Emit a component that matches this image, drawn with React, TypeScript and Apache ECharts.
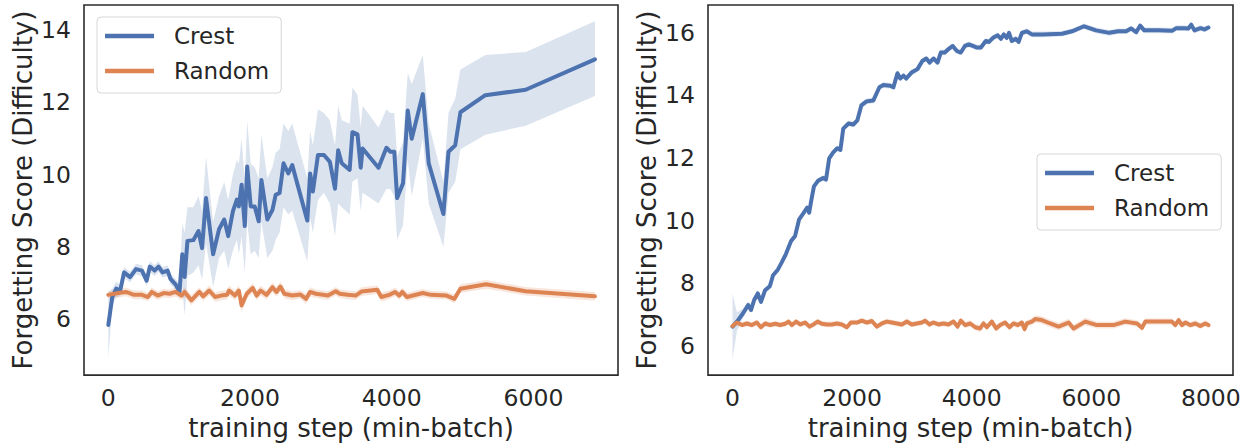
import React, { useEffect, useRef } from "react";
import * as echarts from "echarts";

// ---------- Left panel ----------
const leftCrestX = [0, 56, 112, 168, 223, 307, 391, 475, 541, 586, 653, 709, 765, 837, 877, 949, 1005, 1044, 1077, 1117, 1200, 1273, 1323, 1379, 1479, 1563, 1636, 1692, 1759, 1814, 1842, 1881, 1926, 1960, 2010, 2066, 2122, 2161, 2244, 2317, 2362, 2417, 2473, 2540, 2596, 2808, 2848, 2887, 2959, 3043, 3127, 3199, 3244, 3294, 3406, 3445, 3517, 3562, 3589, 3813, 3925, 3981, 4036, 4076, 4159, 4226, 4282, 4438, 4522, 4729, 4801, 4896, 4969, 5321, 5890, 6867];
const leftCrestY = [5.85, 6.62, 6.85, 6.8, 7.3, 7.17, 7.39, 7.35, 7.07, 7.46, 7.35, 7.46, 7.3, 7.35, 7.12, 6.97, 6.77, 7.8, 7.17, 8.17, 8.19, 8.44, 7.97, 9.35, 7.8, 8.49, 8.76, 8.3, 8.99, 9.31, 9.12, 9.72, 8.58, 10.22, 9.12, 9.12, 8.71, 9.85, 8.76, 9.03, 9.44, 9.49, 10.31, 10.03, 10.26, 8.73, 10.03, 9.53, 10.54, 10.54, 10.35, 9.61, 10.67, 10.31, 10.13, 11.17, 11.11, 10.19, 10.72, 10.19, 10.74, 10.63, 10.63, 9.35, 9.76, 11.77, 10.99, 12.22, 10.31, 8.91, 10.63, 10.81, 11.72, 12.19, 12.34, 13.18];
const leftCrestLo = [4.93, 6.4, 6.6, 6.65, 7.15, 7.02, 7.24, 7.2, 6.92, 7.31, 7.2, 7.31, 7.15, 7.2, 6.97, 6.82, 6.6, 6.9, 6.1, 7.2, 7.3, 7.5, 7.1, 8.1, 6.9, 7.7, 7.9, 7.4, 7.9, 8.2, 7.8, 8.3, 7.3, 8.7, 7.8, 7.9, 7.7, 8.7, 7.7, 7.9, 8.2, 8.4, 9.1, 8.9, 9.0, 7.6, 8.8, 8.4, 9.3, 9.5, 9.2, 8.3, 9.2, 9.1, 8.9, 9.8, 9.9, 9.0, 9.5, 9.2, 9.6, 9.6, 9.4, 8.2, 8.6, 10.4, 9.4, 11.0, 9.2, 8.0, 9.5, 9.8, 10.7, 11.1, 11.35, 12.17];
const leftCrestHi = [6.75, 6.85, 7.05, 6.95, 7.45, 7.32, 7.54, 7.5, 7.22, 7.61, 7.5, 7.61, 7.45, 7.5, 7.27, 7.12, 7.0, 8.65, 8.4, 9.1, 9.1, 9.4, 9.0, 10.5, 8.7, 9.4, 9.8, 9.3, 10.0, 10.4, 10.3, 11.0, 9.8, 11.5, 10.3, 10.2, 9.9, 11.1, 9.9, 10.2, 10.6, 10.7, 11.4, 11.2, 11.4, 9.9, 11.2, 10.8, 11.8, 11.7, 11.5, 10.8, 11.9, 11.5, 11.4, 12.4, 12.2, 11.3, 11.9, 11.3, 11.8, 11.7, 11.7, 10.5, 10.9, 12.8, 12.5, 13.3, 11.4, 9.8, 11.7, 12.1, 12.9, 13.3, 13.38, 14.23];

const leftRandomX = [0, 140, 251, 363, 475, 558, 614, 698, 782, 865, 949, 1033, 1077, 1172, 1284, 1340, 1424, 1507, 1591, 1675, 1703, 1787, 1842, 1881, 1954, 2038, 2094, 2149, 2233, 2317, 2373, 2429, 2484, 2596, 2708, 2792, 2847, 2931, 3099, 3210, 3266, 3378, 3489, 3573, 3796, 3852, 3964, 4048, 4104, 4148, 4215, 4438, 4550, 4773, 4885, 4969, 5332, 5890, 6867];
const leftRandomY = [6.68, 6.73, 6.76, 6.68, 6.68, 6.62, 6.76, 6.66, 6.73, 6.71, 6.76, 6.66, 6.76, 6.53, 6.76, 6.64, 6.8, 6.62, 6.66, 6.68, 6.8, 6.66, 6.8, 6.39, 6.71, 6.87, 6.66, 6.8, 6.68, 6.89, 6.76, 6.91, 6.71, 6.66, 6.69, 6.57, 6.76, 6.71, 6.66, 6.78, 6.71, 6.68, 6.66, 6.77, 6.82, 6.62, 6.68, 6.76, 6.66, 6.76, 6.62, 6.73, 6.68, 6.66, 6.57, 6.85, 6.97, 6.78, 6.64];
const leftRandomSpread = [0.1, 0.12, 0.12, 0.12, 0.12, 0.12, 0.13, 0.12, 0.12, 0.12, 0.13, 0.13, 0.14, 0.14, 0.13, 0.13, 0.14, 0.13, 0.13, 0.13, 0.14, 0.13, 0.14, 0.18, 0.13, 0.14, 0.13, 0.14, 0.13, 0.14, 0.13, 0.14, 0.13, 0.12, 0.12, 0.14, 0.13, 0.12, 0.12, 0.12, 0.12, 0.12, 0.12, 0.12, 0.12, 0.13, 0.12, 0.12, 0.12, 0.12, 0.12, 0.11, 0.11, 0.11, 0.12, 0.12, 0.12, 0.12, 0.12];

// ---------- Right panel ----------
const rightCrestX = [0, 74, 174, 262, 309, 362, 423, 476, 544, 624, 678, 758, 825, 893, 980, 1047, 1114, 1181, 1248, 1282, 1315, 1362, 1429, 1517, 1564, 1617, 1684, 1752, 1805, 1852, 1940, 2020, 2087, 2154, 2241, 2356, 2456, 2523, 2637, 2691, 2758, 2805, 2859, 2906, 2993, 3094, 3174, 3241, 3295, 3362, 3429, 3483, 3550, 3617, 3684, 3751, 3818, 3886, 3953, 4020, 4087, 4154, 4235, 4289, 4356, 4436, 4490, 4537, 4584, 4624, 4671, 4738, 4785, 4839, 4919, 5006, 5174, 5510, 5677, 5879, 6080, 6302, 6449, 6583, 6664, 6751, 6818, 6885, 7120, 7355, 7422, 7557, 7624, 7671, 7725, 7826, 7893, 7960];
const rightCrestY = [6.61, 6.77, 7.03, 7.3, 7.14, 7.46, 7.67, 7.4, 7.77, 7.9, 8.25, 8.43, 8.67, 8.93, 9.35, 9.51, 10.04, 10.22, 10.41, 10.25, 10.62, 11.09, 11.27, 11.36, 11.31, 11.99, 12.18, 12.31, 12.26, 12.94, 13.1, 13.07, 13.2, 13.68, 13.81, 13.84, 14.26, 14.33, 14.31, 14.26, 14.71, 14.54, 14.63, 14.54, 14.73, 14.84, 15.1, 15.18, 15.05, 15.18, 15.05, 15.37, 15.37, 15.49, 15.58, 15.42, 15.37, 15.58, 15.63, 15.58, 15.53, 15.53, 15.74, 15.71, 15.84, 15.92, 15.81, 15.95, 15.84, 16.0, 15.74, 15.81, 15.71, 16.0, 16.05, 15.95, 15.95, 15.97, 16.05, 16.21, 16.08, 16.0, 16.05, 16.05, 16.14, 16.02, 16.23, 16.08, 16.08, 16.07, 16.15, 16.15, 16.14, 16.26, 16.08, 16.15, 16.11, 16.17];
const rightCrestSpread = [1.05, 0.3, 0.15, 0.12, 0.1, 0.1, 0.1, 0.1, 0.09, 0.09, 0.09, 0.09, 0.09, 0.09, 0.09, 0.09, 0.09, 0.09, 0.09, 0.09, 0.09, 0.09, 0.09, 0.09, 0.09, 0.09, 0.09, 0.09, 0.09, 0.09, 0.09, 0.09, 0.09, 0.09, 0.09, 0.09, 0.09, 0.09, 0.09, 0.09, 0.09, 0.09, 0.09, 0.09, 0.09, 0.09, 0.09, 0.09, 0.09, 0.09, 0.09, 0.09, 0.09, 0.09, 0.09, 0.09, 0.09, 0.09, 0.09, 0.09, 0.09, 0.09, 0.09, 0.09, 0.09, 0.09, 0.09, 0.09, 0.09, 0.09, 0.09, 0.09, 0.09, 0.09, 0.09, 0.09, 0.09, 0.09, 0.09, 0.09, 0.09, 0.09, 0.09, 0.09, 0.09, 0.09, 0.09, 0.09, 0.09, 0.09, 0.09, 0.09, 0.09, 0.09, 0.09, 0.09, 0.09, 0.09];

const rightRandomX = [0, 73, 157, 240, 324, 407, 474, 547, 630, 714, 797, 881, 937, 993, 1065, 1132, 1215, 1288, 1355, 1422, 1494, 1578, 1662, 1745, 1829, 1912, 1979, 2080, 2163, 2247, 2330, 2414, 2497, 2581, 2664, 2748, 2832, 2915, 2999, 3082, 3166, 3222, 3294, 3361, 3445, 3528, 3612, 3696, 3763, 3818, 3891, 3975, 4058, 4142, 4198, 4253, 4337, 4409, 4476, 4560, 4632, 4699, 4772, 4839, 4883, 4922, 5006, 5062, 5173, 5313, 5452, 5620, 5703, 5899, 6094, 6373, 6568, 6764, 6848, 6903, 7349, 7405, 7461, 7517, 7572, 7656, 7740, 7823, 7907, 7960];
const rightRandomY = [6.63, 6.74, 6.66, 6.71, 6.66, 6.74, 6.59, 6.71, 6.66, 6.7, 6.66, 6.7, 6.77, 6.66, 6.77, 6.68, 6.74, 6.61, 6.68, 6.77, 6.7, 6.68, 6.68, 6.71, 6.68, 6.59, 6.74, 6.74, 6.8, 6.74, 6.79, 6.61, 6.71, 6.77, 6.74, 6.71, 6.68, 6.77, 6.68, 6.71, 6.74, 6.8, 6.68, 6.74, 6.68, 6.71, 6.68, 6.77, 6.61, 6.8, 6.66, 6.71, 6.59, 6.55, 6.71, 6.59, 6.77, 6.55, 6.66, 6.74, 6.59, 6.71, 6.66, 6.74, 6.53, 6.71, 6.77, 6.85, 6.82, 6.71, 6.61, 6.74, 6.55, 6.77, 6.66, 6.66, 6.77, 6.71, 6.57, 6.77, 6.77, 6.66, 6.82, 6.66, 6.74, 6.66, 6.71, 6.63, 6.71, 6.66];
const rightRandomSpread = [0.08, 0.09, 0.09, 0.09, 0.09, 0.09, 0.09, 0.09, 0.09, 0.09, 0.09, 0.09, 0.09, 0.09, 0.09, 0.09, 0.09, 0.09, 0.09, 0.09, 0.09, 0.09, 0.09, 0.09, 0.09, 0.09, 0.09, 0.09, 0.09, 0.09, 0.09, 0.09, 0.09, 0.09, 0.09, 0.09, 0.09, 0.09, 0.09, 0.09, 0.09, 0.09, 0.09, 0.09, 0.09, 0.09, 0.09, 0.09, 0.1, 0.1, 0.1, 0.1, 0.1, 0.11, 0.1, 0.11, 0.1, 0.11, 0.1, 0.1, 0.11, 0.1, 0.1, 0.1, 0.12, 0.1, 0.11, 0.12, 0.12, 0.12, 0.12, 0.12, 0.12, 0.12, 0.11, 0.11, 0.11, 0.1, 0.11, 0.1, 0.1, 0.1, 0.1, 0.1, 0.1, 0.1, 0.1, 0.1, 0.1, 0.1];

const leftXTicks = [0, 2000, 4000, 6000];
const rightXTicks = [0, 2000, 4000, 6000, 8000];
const leftYTicks = [6, 8, 10, 12, 14];
const rightYTicks = [6, 8, 10, 12, 14, 16];

const BLUE = "#4C72B0";
const ORANGE = "#DD8452";
const BLUE_BAND = "rgba(76,114,176,0.2)";
const ORANGE_BAND = "rgba(221,132,82,0.2)";
const TEXT = "#262626";
const FONT = "DejaVu Sans";

const zip = (xs: number[], ys: number[]) => xs.map((x, i) => [x, ys[i]]);

function band(idx: number, xs: number[], lo: number[], hi: number[], fill: string) {
  return {
    type: "custom",
    xAxisIndex: idx,
    yAxisIndex: idx,
    silent: true,
    z: 1,
    data: [[xs[0], lo[0]]],
    renderItem: (_p: any, api: any) => {
      const top = xs.map((x, i) => api.coord([x, hi[i]]));
      const bot = xs.map((x, i) => api.coord([x, lo[i]])).reverse();
      return { type: "polygon", shape: { points: top.concat(bot) }, style: { fill, stroke: "none" } };
    },
  };
}

function line(idx: number, name: string, xs: number[], ys: number[], color: string) {
  return {
    type: "line",
    name,
    xAxisIndex: idx,
    yAxisIndex: idx,
    data: zip(xs, ys),
    color,
    showSymbol: false,
    symbol: "none",
    z: 3,
    lineStyle: { width: 4, color, join: "round", cap: "round" },
  };
}

function xAxis(idx: number, min: number, max: number, ticks: number[]) {
  return {
    type: "value",
    gridIndex: idx,
    min,
    max,
    axisLine: { show: false },
    axisTick: { show: false },
    splitLine: { show: false },
    axisLabel: { customValues: ticks, formatter: (v: number) => String(v), fontSize: 23.5, color: TEXT, fontFamily: FONT, margin: 11 },
    name: "training step (min-batch)",
    nameLocation: "middle",
    nameGap: 39,
    nameTextStyle: { fontSize: 26, color: TEXT, fontFamily: FONT },
  };
}

function yAxis(idx: number, min: number, max: number, ticks: number[]) {
  return {
    type: "value",
    gridIndex: idx,
    min,
    max,
    axisLine: { show: false },
    axisTick: { show: false },
    splitLine: { show: false },
    axisLabel: { customValues: ticks, formatter: (v: number) => String(v), fontSize: 23.5, color: TEXT, fontFamily: FONT, margin: 13 },
    name: "Forgetting Score (Difficulty)",
    nameLocation: "middle",
    nameGap: 48,
    nameTextStyle: { fontSize: 26, color: TEXT, fontFamily: FONT },
  };
}

function legend(left: number, top: number) {
  return {
    left,
    top,
    orient: "vertical",
    selectedMode: false,
    data: [
      { name: "Crest", icon: "rect" },
      { name: "Random", icon: "rect" },
    ],
    itemWidth: 49,
    itemHeight: 4.5,
    itemGap: 7,
    padding: [5, 12, 8, 8],
    borderColor: "#d6d6d6",
    borderWidth: 1,
    borderRadius: 4,
    backgroundColor: "rgba(255,255,255,0.8)",
    textStyle: { fontSize: 23, color: TEXT, fontFamily: FONT, lineHeight: 28, padding: [0, 0, 0, 15] },
  };
}

export default function App() {
  const ref = useRef<HTMLDivElement>(null);
  useEffect(() => {
    if (!ref.current) return;
    const chart = echarts.init(ref.current, undefined, { renderer: "svg" });
    const gridBase = { show: true, borderColor: "#2b2b2b", borderWidth: 1.6, backgroundColor: "transparent", containLabel: false };
    const leftCrestBand = band(0, leftCrestX, leftCrestLo, leftCrestHi, BLUE_BAND);
    const leftRandBand = band(
      0,
      leftRandomX,
      leftRandomY.map((y, i) => y - leftRandomSpread[i]),
      leftRandomY.map((y, i) => y + leftRandomSpread[i]),
      ORANGE_BAND
    );
    const rightCrestBand = band(
      1,
      rightCrestX,
      rightCrestY.map((y, i) => y - rightCrestSpread[i]),
      rightCrestY.map((y, i) => y + rightCrestSpread[i]),
      BLUE_BAND
    );
    const rightRandBand = band(
      1,
      rightRandomX,
      rightRandomY.map((y, i) => y - rightRandomSpread[i]),
      rightRandomY.map((y, i) => y + rightRandomSpread[i]),
      ORANGE_BAND
    );
    chart.setOption({
      animation: false,
      backgroundColor: "#ffffff",
      textStyle: { fontFamily: FONT },
      grid: [
        { ...gridBase, left: 84, top: 5, width: 534, height: 374 },
        { ...gridBase, left: 708, top: 5, width: 525, height: 374 },
      ],
      xAxis: [xAxis(0, -343, 7193, leftXTicks), xAxis(1, -410, 8370, rightXTicks)],
      yAxis: [yAxis(0, 4.465, 14.68, leftYTicks), yAxis(1, 5.06, 16.89, rightYTicks)],
      legend: [legend(97, 17), legend(1037, 154)],
      series: [
        leftCrestBand,
        leftRandBand,
        rightCrestBand,
        rightRandBand,
        line(0, "Crest", leftCrestX, leftCrestY, BLUE),
        line(0, "Random", leftRandomX, leftRandomY, ORANGE),
        line(1, "Crest", rightCrestX, rightCrestY, BLUE),
        line(1, "Random", rightRandomX, rightRandomY, ORANGE),
      ],
    });
    return () => chart.dispose();
  }, []);
  return <div ref={ref} style={{ position: "fixed", left: 0, top: 0, width: 1251, height: 446 }} />;
}
